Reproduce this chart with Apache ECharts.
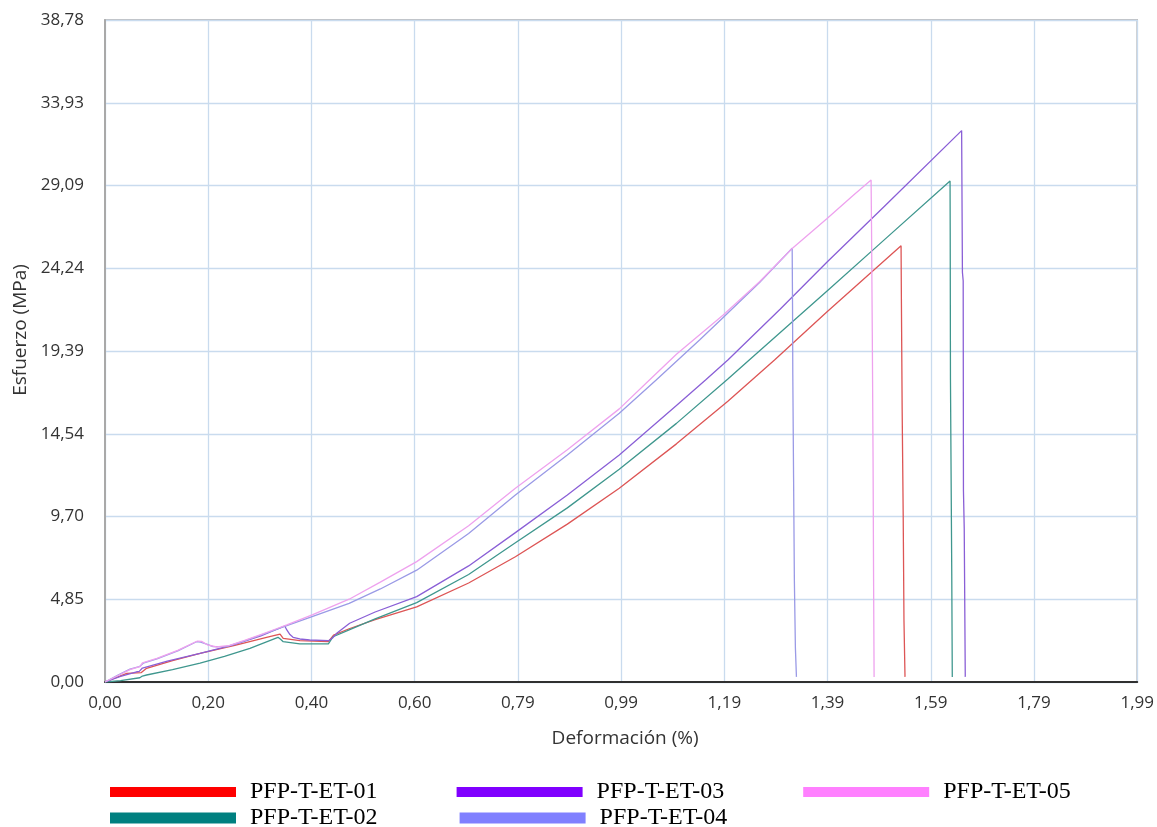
<!DOCTYPE html>
<html>
<head>
<meta charset="utf-8">
<script src="https://cdn.jsdelivr.net/npm/echarts@6/dist/echarts.min.js"></script>
<style>
  html, body { margin: 0; padding: 0; background: #ffffff; }
  #chart { width: 1157px; height: 827px; }
</style>
</head>
<body>
<div id="chart"></div>
<script>
// Axis tick labels (decimal comma)
const xTickLabels = ['0,00', '0,20', '0,40', '0,60', '0,79', '0,99', '1,19', '1,39', '1,59', '1,79', '1,99'];
const yTickLabels = ['0,00', '4,85', '9,70', '14,54', '19,39', '24,24', '29,09', '33,93', '38,78'];
const xStep = 0.1987;
const yStep = 4.8475;

// Specimen names
const names = ['PFP-T-ET-01', 'PFP-T-ET-02', 'PFP-T-ET-03', 'PFP-T-ET-04', 'PFP-T-ET-05'];

// PFP-T-ET-01: strain (%) and stress (MPa)
const strain01 = [0, 0.042, 0.07, 0.08, 0.13, 0.183, 0.25, 0.311, 0.337, 0.343, 0.375, 0.43, 0.44, 0.47, 0.52, 0.60, 0.70, 0.79, 0.89, 0.99, 1.10, 1.199, 1.2888, 1.39, 1.5324, 1.533, 1.5345, 1.5365, 1.538, 1.540];
const stress01 = [0, 0.51, 0.55, 0.80, 1.25, 1.68, 2.15, 2.62, 2.81, 2.56, 2.42, 2.36, 2.75, 3.12, 3.65, 4.40, 5.80, 7.34, 9.25, 11.35, 13.95, 16.45, 18.86, 21.69, 25.56, 22.6, 16.0, 9.8, 3.6, 0.3];

// PFP-T-ET-02
const strain02 = [0, 0.03, 0.067, 0.072, 0.08, 0.13, 0.183, 0.23, 0.279, 0.333, 0.338, 0.343, 0.375, 0.43, 0.439, 0.47, 0.52, 0.60, 0.70, 0.79, 0.89, 0.99, 1.10, 1.199, 1.2472, 1.39, 1.50, 1.6267, 1.627, 1.6275, 1.630, 1.631];
const stress02 = [0, 0.08, 0.25, 0.35, 0.41, 0.72, 1.10, 1.50, 1.97, 2.62, 2.50, 2.36, 2.23, 2.23, 2.65, 3.05, 3.70, 4.65, 6.30, 8.16, 10.2, 12.46, 15.15, 17.75, 19.05, 22.9, 25.9, 29.35, 26.3, 17.7, 6.3, 0.3];

// PFP-T-ET-03
const strain03 = [0, 0.03, 0.061, 0.066, 0.072, 0.12, 0.183, 0.247, 0.30, 0.346, 0.350, 0.356, 0.362, 0.375, 0.394, 0.43, 0.438, 0.446, 0.471, 0.52, 0.60, 0.70, 0.79, 0.89, 0.99, 1.10, 1.156, 1.199, 1.30, 1.39, 1.50, 1.649, 1.6505, 1.652, 1.6525, 1.654, 1.656];
const stress03 = [0, 0.33, 0.60, 0.62, 0.82, 1.22, 1.68, 2.17, 2.70, 3.28, 3.05, 2.78, 2.62, 2.52, 2.46, 2.42, 2.58, 2.85, 3.44, 4.10, 5.0, 6.80, 8.75, 10.95, 13.3, 16.2, 17.69, 18.86, 21.85, 24.6, 27.85, 32.30, 24.0, 23.5, 11.2, 9.0, 0.3];

// PFP-T-ET-04
const strain04 = [0, 0.025, 0.048, 0.066, 0.0737, 0.10, 0.14, 0.176, 0.184, 0.197, 0.208, 0.234, 0.27, 0.30, 0.33, 0.35, 0.40, 0.47, 0.53, 0.60, 0.70, 0.79, 0.89, 0.99, 1.061, 1.1445, 1.19, 1.26, 1.3228, 1.3235, 1.324, 1.3255, 1.327, 1.329, 1.331];
const stress04 = [0, 0.40, 0.75, 0.90, 1.10, 1.35, 1.82, 2.36, 2.33, 2.20, 2.07, 2.07, 2.42, 2.75, 3.08, 3.30, 3.85, 4.61, 5.45, 6.55, 8.70, 10.95, 13.3, 15.74, 17.69, 20.03, 21.35, 23.4, 25.41, 22.0, 18.0, 12.0, 6.0, 2.0, 0.3];

// PFP-T-ET-05
const strain05 = [0, 0.025, 0.048, 0.068, 0.072, 0.10, 0.14, 0.178, 0.186, 0.197, 0.215, 0.24, 0.27, 0.30, 0.33, 0.35, 0.40, 0.47, 0.53, 0.60, 0.70, 0.79, 0.89, 0.99, 1.045, 1.10, 1.19, 1.26, 1.3228, 1.39, 1.44, 1.4747, 1.4755, 1.477, 1.4785, 1.4795, 1.4805];
const stress05 = [0, 0.38, 0.72, 0.92, 1.12, 1.38, 1.85, 2.40, 2.38, 2.18, 2.05, 2.15, 2.45, 2.78, 3.12, 3.35, 3.95, 4.85, 5.85, 7.05, 9.15, 11.35, 13.6, 16.0, 17.6, 19.2, 21.5, 23.45, 25.4, 27.15, 28.5, 29.41, 26.8, 20.5, 13.0, 6.0, 0.3];

const strains = [strain01, strain02, strain03, strain04, strain05];
const stresses = [stress01, stress02, stress03, stress04, stress05];

// Curve colours and legend swatch colours
const lineColors = ['#dd5555', '#3f978e', '#8a5fd6', '#9a9ae6', '#eea2ee'];
const swatchColors = ['#ff0000', '#008080', '#8000ff', '#8080ff', '#ff80ff'];

const zip = (xs, ys) => xs.map((x, i) => [x, ys[i]]);

const series = names.map((name, i) => ({
  name: name,
  type: 'line',
  showSymbol: false,
  symbol: 'none',
  smooth: false,
  animation: false,
  data: zip(strains[i], stresses[i]),
  lineStyle: { color: lineColors[i], width: 1.3 },
  itemStyle: { color: swatchColors[i] },
  z: 3
}));

const legendText = {
  fontFamily: '"Liberation Serif", "Times New Roman", serif',
  fontSize: 24,
  color: '#000000',
  padding: [0, 0, 0, 9]
};

const legendItem = (i) => ({ name: names[i], itemStyle: { color: swatchColors[i] } });

const chart = echarts.init(document.getElementById('chart'), null, { renderer: 'canvas' });

chart.setOption({
  backgroundColor: '#ffffff',
  animation: false,
  grid: {
    left: 105, right: 19, top: 20, bottom: 145,
    show: true,
    borderColor: '#a9a9a9',
    borderWidth: 1.5,
    backgroundColor: 'transparent'
  },
  legend: [
    {
      data: [legendItem(0), legendItem(2), legendItem(4)],
      left: 105, top: 775,
      icon: 'rect', itemWidth: 126, itemHeight: 10, itemGap: 79,
      textStyle: legendText, selectedMode: false
    },
    {
      data: [legendItem(1), legendItem(3)],
      left: 105, top: 801,
      icon: 'rect', itemWidth: 126, itemHeight: 11, itemGap: 82,
      textStyle: legendText, selectedMode: false
    }
  ],
  xAxis: {
    type: 'value',
    min: 0, max: xStep * 10, interval: xStep,
    name: 'Deformación (%)',
    nameLocation: 'middle',
    nameGap: 47,
    nameTextStyle: { fontFamily: '"Open Sans", sans-serif', fontSize: 19, color: '#333333', padding: [0, 0, 0, 8] },
    axisLine: { show: true, onZero: false, lineStyle: { color: '#303030', width: 2 } },
    axisTick: { show: false },
    axisLabel: {
      margin: 13,
      fontFamily: '"Open Sans", sans-serif', fontSize: 17, color: '#333333',
      formatter: (v) => xTickLabels[Math.round(v / xStep)] ?? ''
    },
    splitLine: { show: true, lineStyle: { color: '#c9dbee', width: 1.3 } }
  },
  yAxis: {
    type: 'value',
    min: 0, max: yStep * 8, interval: yStep,
    name: 'Esfuerzo (MPa)',
    nameLocation: 'middle',
    nameGap: 71,
    nameTextStyle: { fontFamily: '"Open Sans", sans-serif', fontSize: 19, color: '#333333', padding: [0, 0, 0, 42] },
    axisLine: { show: true, onZero: false, lineStyle: { color: '#a9a9a9', width: 2 } },
    axisTick: { show: false },
    axisLabel: {
      margin: 21,
      fontFamily: '"Open Sans", sans-serif', fontSize: 17, color: '#333333',
      formatter: (v) => yTickLabels[Math.round(v / yStep)] ?? ''
    },
    splitLine: { show: true, lineStyle: { color: '#c9dbee', width: 1.3 } }
  },
  series: series
});
</script>
</body>
</html>
